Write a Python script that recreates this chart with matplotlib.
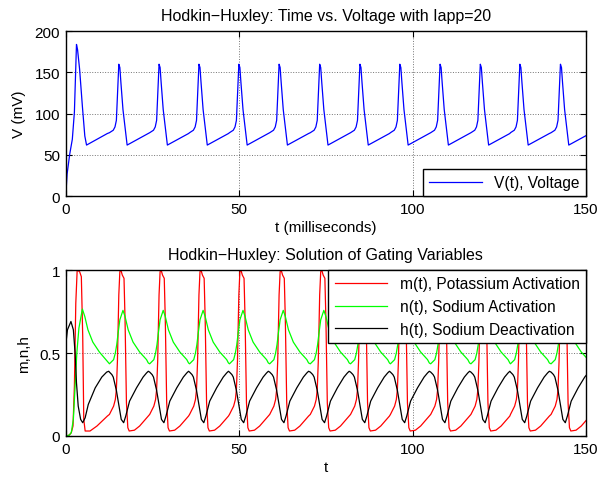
import numpy as np
import matplotlib.pyplot as plt

plt.rcParams['font.family'] = ['Liberation Sans', 'DejaVu Sans']

# ====== data ======
# peak times of the action potentials (ms)
spike_times = [3.1, 15.3, 26.9, 38.4, 49.9, 61.5, 73.2, 84.8, 96.3, 107.9, 119.5, 130.9, 142.6]

# first (transient) spike, absolute times
first_t_V = [0, 0.4, 1.15, 1.9, 2.5, 3.1, 3.4, 4.0, 4.8, 5.5, 6.0, 9.0, 12.0]
first_V = [0, 27, 51, 69, 102, 184, 178, 154, 109, 73, 62, 69, 76]

first_t_m = [0, 1.0, 1.6, 2.1, 2.5, 2.9, 3.3, 4.0, 4.5, 4.9, 5.2, 5.6, 7.0, 9.0, 11.0, 12.0]
first_m = [0, 0.005, 0.02, 0.06, 0.3, 0.8, 1.0, 0.99, 0.96, 0.6, 0.1, 0.03, 0.03, 0.06, 0.10, 0.12]

first_t_n = [0, 1.0, 1.6, 2.2, 2.7, 3.2, 3.8, 4.8, 5.5, 6.4, 7.8, 9.7, 11.6, 12.4]
first_n = [0, 0.005, 0.02, 0.1, 0.3, 0.5, 0.65, 0.765, 0.72, 0.64, 0.566, 0.506, 0.46, 0.44]

first_t_h = [0, 0.5, 1.5, 2.2, 2.7, 3.1, 3.6, 4.3, 4.9, 5.6, 6.5, 8.5, 10.4, 11.8, 12.4]
first_h = [0.55, 0.64, 0.69, 0.64, 0.5, 0.32, 0.18, 0.1, 0.08, 0.11, 0.19, 0.29, 0.355, 0.385, 0.39]

# one regular cycle, times relative to the spike peak
cyc_t_V = [-2.7, -1.6, -1.1, -0.7, -0.4, 0.0, 0.3, 0.6, 1.2, 2.0, 2.4, 5.0, 8.5]
cyc_V = [77, 80, 84, 92, 120, 160, 156, 138, 105, 77, 62, 68, 76]

cyc_t_m = [-2.7, -1.5, -1.0, -0.7, -0.4, 0.0, 0.3, 0.6, 1.0, 1.5, 1.8, 2.2, 2.6, 3.0, 4.5, 6.0, 8.5]
cyc_m = [0.13, 0.18, 0.22, 0.28, 0.45, 0.85, 0.99, 1.0, 0.97, 0.95, 0.7, 0.2, 0.05, 0.03, 0.035, 0.06, 0.12]

cyc_t_n = [-2.7, -1.5, -1.0, -0.6, -0.2, 0.3, 1.2, 1.8, 2.7, 4.1, 6.0, 8.0, 8.5]
cyc_n = [0.435, 0.46, 0.50, 0.55, 0.62, 0.70, 0.757, 0.72, 0.64, 0.566, 0.506, 0.46, 0.44]

cyc_t_h = [-2.7, -2.0, -1.6, -0.7, 0.1, 0.7, 1.4, 2.0, 3.1, 5.1, 7.0, 8.0, 8.5]
cyc_h = [0.385, 0.37, 0.355, 0.275, 0.175, 0.10, 0.08, 0.12, 0.21, 0.29, 0.355, 0.38, 0.39]


def build(t0, y0, ct, cy):
    t = list(t0)
    y = list(y0)
    for tp in spike_times[1:]:
        t += [tp + o for o in ct]
        y += list(cy)
    return np.array(t), np.array(y)


tV, V = build(first_t_V, first_V, cyc_t_V, cyc_V)
tm, m = build(first_t_m, first_m, cyc_t_m, cyc_m)
tn, n = build(first_t_n, first_n, cyc_t_n, cyc_n)
th, h = build(first_t_h, first_h, cyc_t_h, cyc_h)

# ====== figure ======
fig = plt.figure(figsize=(6.03, 4.81), dpi=100)
ax1 = fig.add_axes([0.109, 0.590, 0.863, 0.343])
ax2 = fig.add_axes([0.109, 0.0915, 0.863, 0.345])


def style(ax):
    ax.set_xlim(0, 150)
    ax.set_xticks([0, 50, 100, 150])
    ax.tick_params(direction='in', top=True, right=True, labelsize=11, length=4, pad=4)
    ax.grid(True, color='k', linestyle=':', linewidth=0.7, alpha=0.55)
    for s in ax.spines.values():
        s.set_linewidth(1.0)


ax1.plot(tV, V, color='#0000ff', lw=0.9, label='V(t), Voltage')
ax1.set_ylim(0, 200)
ax1.set_yticks([0, 50, 100, 150, 200])
style(ax1)
ax1.set_title('Hodkin\u2212Huxley: Time vs. Voltage with Iapp=20', fontsize=11.5, pad=8)
ax1.set_xlabel('t (milliseconds)', fontsize=11, labelpad=3)
ax1.set_ylabel('V (mV)', fontsize=11, labelpad=6)
leg1 = ax1.legend(loc='lower right', fontsize=11.2, borderaxespad=0, fancybox=False,
                  framealpha=1, edgecolor='k', handlelength=3.4, borderpad=0.4)
leg1.get_frame().set_linewidth(1.0)

ax2.plot(tm, m, color='#ff0000', lw=0.9, label='m(t), Potassium Activation')
ax2.plot(tn, n, color='#00ff00', lw=0.9, label='n(t), Sodium Activation')
ax2.plot(th, h, color='k', lw=0.9, label='h(t), Sodium Deactivation')
ax2.set_ylim(0, 1)
ax2.set_yticks([0, 0.5, 1])
ax2.set_yticklabels(['0', '0.5', '1'])
style(ax2)
ax2.set_title('Hodkin\u2212Huxley: Solution of Gating Variables', fontsize=11.5, pad=8)
ax2.set_xlabel('t', fontsize=11, labelpad=3)
ax2.set_ylabel('m,n,h', fontsize=11, labelpad=6)
leg2 = ax2.legend(loc='upper right', fontsize=11.2, borderaxespad=0, fancybox=False,
                  framealpha=1, edgecolor='k', handlelength=3.4, labelspacing=0.5,
                  borderpad=0.4)
leg2.get_frame().set_linewidth(1.0)

fig.savefig('out.png', dpi=100)
